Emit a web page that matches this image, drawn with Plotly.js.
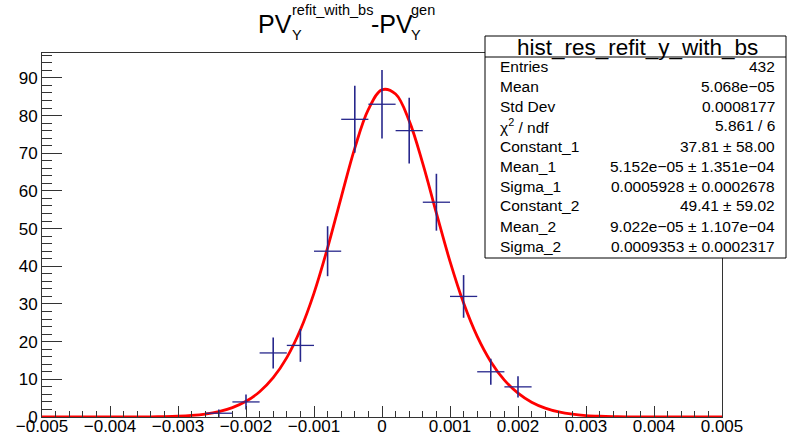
<!DOCTYPE html>
<html>
<head>
<meta charset="utf-8">
<script src="https://cdn.plot.ly/plotly-3.0.1.min.js"></script>
<style>
html,body{margin:0;padding:0;background:#fff;}
#chart{width:790px;height:435px;}
</style>
</head>
<body>
<div id="chart"></div>
<script>
// ---- data ----
var binCenters = [-0.0024, -0.002, -0.0016, -0.0012, -0.0008, -0.0004, 0, 0.0004, 0.0008, 0.0012, 0.0016, 0.002];
var counts     = [1, 4, 17, 19, 44, 79, 83, 76, 57, 32, 12, 8];
var countErrs  = [1, 2, 4.12, 4.36, 6.63, 8.89, 9.11, 8.72, 7.55, 5.66, 3.46, 2.83];
var binHalfWidths = [0.0002, 0.0002, 0.0002, 0.0002, 0.0002, 0.0002, 0.0002, 0.0002, 0.0002, 0.0002, 0.0002, 0.0002];

var fitX = [-0.005, -0.004, -0.0036, -0.0034, -0.0032, -0.003, -0.0028, -0.0026, -0.0024, -0.0022, -0.002,
            -0.0018, -0.0016, -0.0014, -0.0012, -0.001, -0.0008, -0.0006, -0.0004, -0.0002, 0,
            0.0002, 0.0004, 0.0006, 0.0008, 0.001, 0.0012, 0.0014, 0.0016, 0.0018, 0.002,
            0.0022, 0.0024, 0.0026, 0.0028, 0.003, 0.0032, 0.0034, 0.0036, 0.004, 0.005];
var fitY = [0, 0.004, 0.021, 0.047, 0.10, 0.21, 0.42, 0.79, 1.43, 2.49, 4.16,
            6.70, 10.44, 15.77, 23.15, 32.89, 44.90, 58.30, 71.36, 81.64, 86.85,
            85.71, 78.58, 67.23, 54.09, 41.30, 30.23, 21.38, 14.68, 9.78, 6.32,
            3.93, 2.36, 1.35, 0.74, 0.39, 0.20, 0.094, 0.043, 0.008, 0];

var xTickVals = [-0.005, -0.004, -0.003, -0.002, -0.001, 0, 0.001, 0.002, 0.003, 0.004, 0.005];
var xTickText = ['\u22120.005', '\u22120.004', '\u22120.003', '\u22120.002', '\u22120.001', '0', '0.001', '0.002', '0.003', '0.004', '0.005'];
var yTickVals = [0, 10, 20, 30, 40, 50, 60, 70, 80, 90];
var yTickText = ['0', '10', '20', '30', '40', '50', '60', '70', '80', '90'];

var statsTitle = 'hist_res_refit_y_with_bs';
var statsNames = ['Entries', 'Mean', 'Std Dev', '\u03c7<sup>2</sup> / ndf', 'Constant_1', 'Mean_1', 'Sigma_1', 'Constant_2', 'Mean_2', 'Sigma_2'];
var statsValues = ['432', '5.068e\u221205', '0.0008177', '5.861 / 6', '37.81 \u00b1 58.00',
                   '5.152e\u221205 \u00b1 1.351e\u221204', '0.0005928 \u00b1 0.0002678', '49.41 \u00b1 59.02',
                   '9.022e\u221205 \u00b1 1.107e\u221204', '0.0009353 \u00b1 0.0002317'];

// ---- layout geometry (pixels) ----
var W = 790, H = 435;
var L = 42, R = 722, T = 53, B = 417;
function px(x){ return (x - L) / (R - L); }
function py(y){ return (B - y) / (B - T); }
var FONT = 'Liberation Sans, Arial, Helvetica, sans-serif';

var annotations = [];
function ann(text, x, y, size, xanchor, yanchor){
  annotations.push({text: text, x: px(x), y: py(y), xref: 'paper', yref: 'paper',
    xanchor: xanchor || 'left', yanchor: yanchor || 'middle', showarrow: false,
    font: {family: FONT, size: size, color: '#000'}, borderpad: 0});
}
// title pieces (ROOT-style stacked sub/superscripts)
ann('PV', 257, 23.5, 25);
ann('refit_with_bs', 291, 10, 14.5);
ann('Y', 291, 35, 14.5);
ann('-PV', 370, 23.5, 25);
ann('gen', 410, 10, 14.5);
ann('Y', 410, 35, 14.5);
// stats box
ann(statsTitle, 637, 47, 22.5, 'center');
for (var i = 0; i < statsNames.length; i++) {
  var ry = 66 + 20 * i;
  ann(statsNames[i], 499, ry, 15.5, 'left');
  ann(statsValues[i], 776, ry, 15.5, 'right');
}

var shapes = [
  {type: 'rect', xref: 'paper', yref: 'paper', x0: px(485), x1: px(786), y0: py(258), y1: py(36),
   fillcolor: '#fff', line: {color: '#000', width: 1}, layer: 'above'},
  {type: 'line', xref: 'paper', yref: 'paper', x0: px(485), x1: px(786), y0: py(57), y1: py(57),
   line: {color: '#000', width: 1}, layer: 'above'}
];

var traces = [
  {
    x: fitX, y: fitY, type: 'scatter', mode: 'lines',
    line: {color: '#ff0000', width: 2.8, shape: 'spline', smoothing: 1},
    hoverinfo: 'skip', cliponaxis: true
  },
  {
    x: binCenters, y: counts, type: 'scatter', mode: 'markers',
    marker: {size: 0.1, color: '#27278c'},
    error_x: {type: 'data', array: binHalfWidths, visible: true, width: 0, thickness: 1.3, color: '#27278c'},
    error_y: {type: 'data', array: countErrs, visible: true, width: 0, thickness: 1.6, color: '#27278c'},
    cliponaxis: false
  }
];

var axisCommon = {
  showgrid: false, zeroline: false, showline: true, linecolor: '#333', linewidth: 1,
  mirror: true, ticks: 'inside', tickcolor: '#333', tickwidth: 1, automargin: false
};

var layout = {
  width: W, height: H,
  margin: {l: L, r: W - R, t: T, b: H - B, pad: 0},
  paper_bgcolor: '#fff', plot_bgcolor: '#fff',
  showlegend: false,
  font: {family: FONT, color: '#000'},
  xaxis: Object.assign({}, axisCommon, {
    range: [-0.005, 0.005], tickmode: 'array', tickvals: xTickVals, ticktext: xTickText,
    ticklen: 11, tickfont: {family: FONT, size: 17, color: '#000'}, ticklabelstandoff: -6,
    minor: {dtick: 0.0002, tick0: 0, ticks: 'inside', ticklen: 6, tickcolor: '#333', tickwidth: 1}
  }),
  yaxis: Object.assign({}, axisCommon, {
    range: [0, 96.6], tickmode: 'array', tickvals: yTickVals, ticktext: yTickText,
    ticklen: 20, tickfont: {family: FONT, size: 17, color: '#000'},
    minor: {dtick: 2, tick0: 0, ticks: 'inside', ticklen: 10, tickcolor: '#333', tickwidth: 1}
  }),
  shapes: shapes,
  annotations: annotations
};

Plotly.newPlot('chart', traces, layout, {staticPlot: true, displayModeBar: false});
</script>
</body>
</html>
